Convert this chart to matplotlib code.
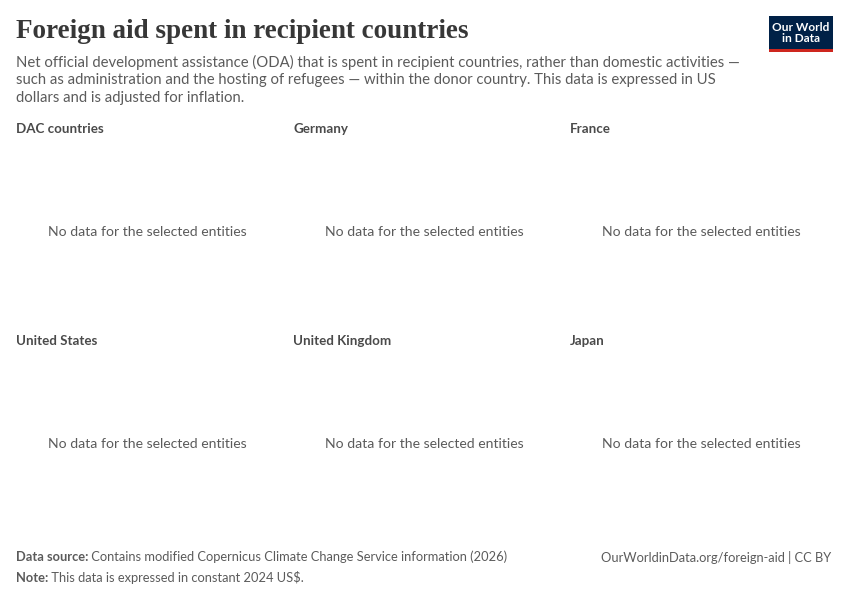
import matplotlib
matplotlib.use("Agg")
import matplotlib.pyplot as plt
from matplotlib.patches import Rectangle
from matplotlib.text import Annotation

# ---- content ----
title = "Foreign aid spent in recipient countries"
subtitle_lines = [
    "Net official development assistance (ODA) that is spent in recipient countries, rather than domestic activities \u2014",
    "such as administration and the hosting of refugees \u2014 within the donor country. This data is expressed in US",
    "dollars and is adjusted for inflation.",
]
panels = ["DAC countries", "Germany", "France", "United States", "United Kingdom", "Japan"]
no_data_msg = "No data for the selected entities"
source_label = "Data source:"
source_text = " Contains modified Copernicus Climate Change Service information (2026)"
note_label = "Note:"
note_text = " This data is expressed in constant 2024 US$."
url_text = "OurWorldinData.org/foreign-aid | CC BY"
logo_lines = "Our World\nin Data"

W, H = 850, 600
fig = plt.figure(figsize=(W / 100, H / 100), dpi=100)
fig.patch.set_facecolor("white")

def fx(x):
    return x / W

def fy(y):
    return 1 - y / H

SANS = ["Lato", "DejaVu Sans"]
GREY = "#5b5b5b"
DARK = "#4a4a4a"

# title
fig.text(fx(16), fy(32), title, family=["Liberation Serif", "DejaVu Serif"],
         fontsize=19.5, fontweight="bold", color="#373737", va="center", ha="left")

# subtitle
for i, line in enumerate(subtitle_lines):
    fig.text(fx(16), fy(62 + 18 * i), line, family=SANS, fontsize=10.75,
             color=GREY, va="center", ha="left")

# logo
fig.patches.append(Rectangle((fx(769), fy(52)), 64 / W, 36 / H,
                             transform=fig.transFigure, facecolor="#002147",
                             edgecolor="none"))
fig.patches.append(Rectangle((fx(769), fy(52)), 64 / W, 3 / H,
                             transform=fig.transFigure, facecolor="#ce261e",
                             edgecolor="none"))
fig.text(fx(801), fy(33), logo_lines, family=SANS, fontsize=8.6, color="white",
         ha="center", va="center", linespacing=1.0, fontweight="bold")

# panels
col_x = [16, 293, 570]
row_y = [129, 341]
panel_w = 262
for idx, name in enumerate(panels):
    r, c = divmod(idx, 3)
    x0 = col_x[c]
    y0 = row_y[r]
    fig.text(fx(x0), fy(y0), name, family=SANS, fontsize=9.6, fontweight="bold",
             color=DARK, va="center", ha="left")
    fig.text(fx(x0 + panel_w / 2), fy(y0 + 103), no_data_msg, family=SANS,
             fontsize=10.1, color=GREY, va="center", ha="center")

# footer
t1 = fig.text(fx(16), fy(557), source_label, family=SANS, fontsize=9.3,
              fontweight="bold", color=GREY, va="center", ha="left")
fig.add_artist(Annotation(source_text, xy=(1, 0.5), xycoords=t1, va="center",
                          ha="left", family=SANS, fontsize=9.3, color=GREY))
t2 = fig.text(fx(16), fy(578), note_label, family=SANS, fontsize=9.3,
              fontweight="bold", color=GREY, va="center", ha="left")
fig.add_artist(Annotation(note_text, xy=(1, 0.5), xycoords=t2, va="center",
                          ha="left", family=SANS, fontsize=9.3, color=GREY))
fig.text(fx(831), fy(557), url_text, family=SANS, fontsize=9.3, color=GREY,
         va="center", ha="right")

fig.savefig("out.png", dpi=100, facecolor="white")
